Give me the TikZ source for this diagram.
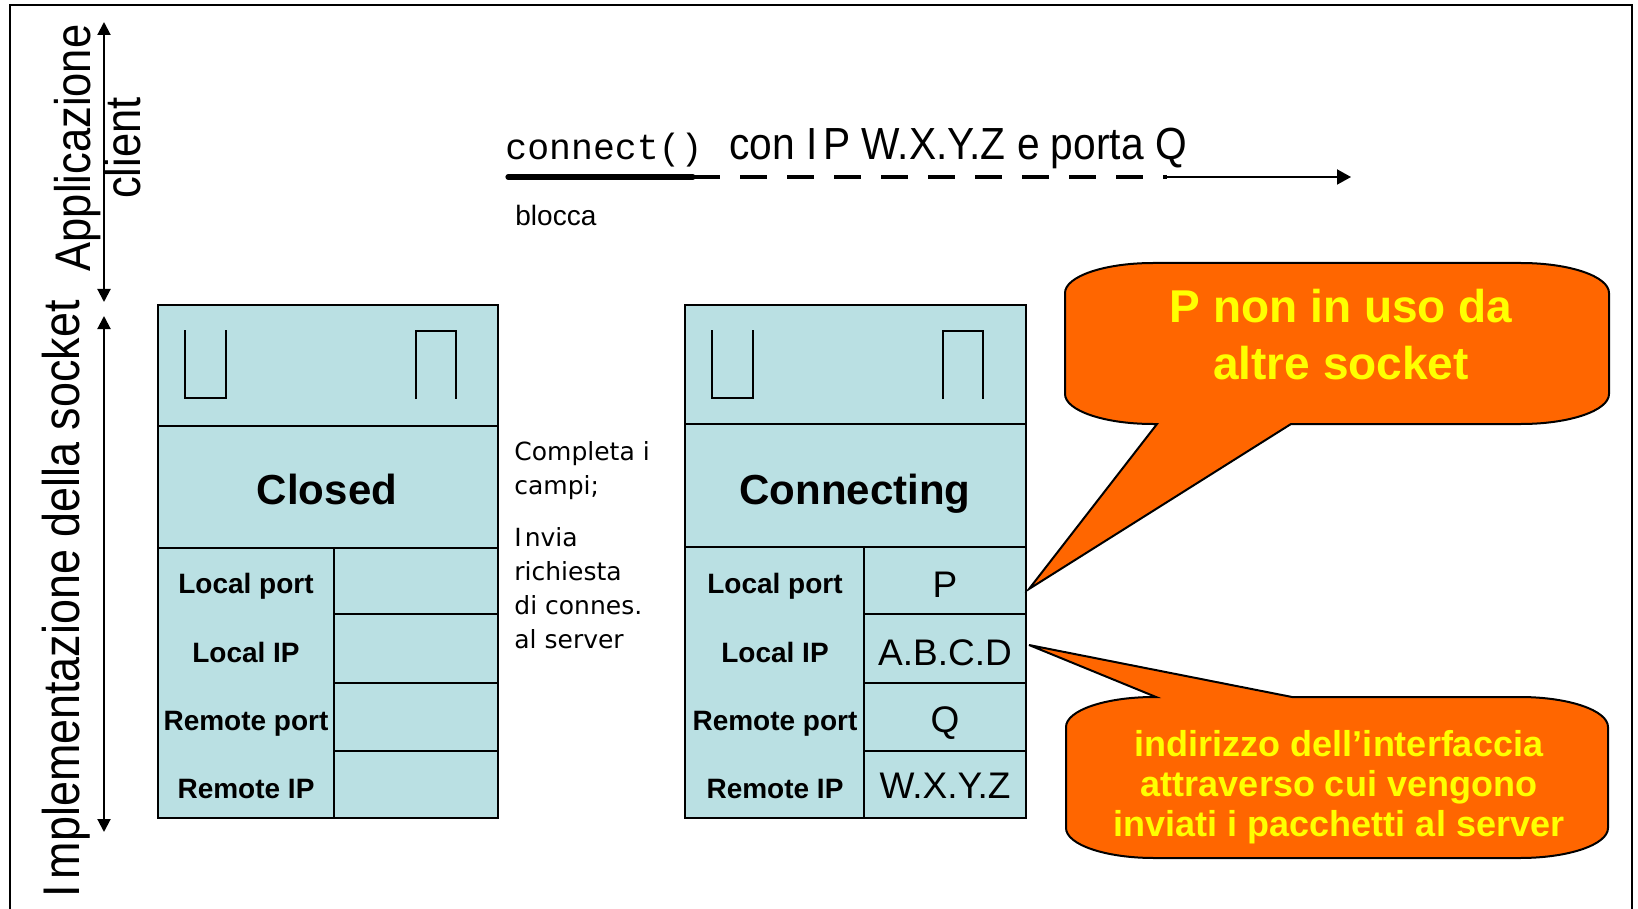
\documentclass[tikz,border=0pt]{standalone}
\usepackage{fontspec}
\setmainfont{Liberation Sans}
\newfontfamily\narrowf{Liberation Sans}[FakeStretch=0.87]
\newfontfamily\narrowg{Liberation Sans}[FakeStretch=0.905]
\newfontfamily\monof{Liberation Mono}
\newfontfamily\dejaf{DejaVu Sans}
\usetikzlibrary{arrows.meta}
\definecolor{sockblue}{RGB}{186,224,227}
\definecolor{callorange}{RGB}{255,102,0}
\definecolor{callyellow}{RGB}{255,255,0}
\tikzset{
  frameline/.style={line width=1pt},
  boxline/.style={line width=1pt, draw=black},
  fieldlabel/.style={font=\bfseries\fontsize{14}{16}\selectfont, inner sep=0pt, anchor=base},
  fieldvalue/.style={font=\fontsize{18.5}{20}\selectfont, inner sep=0pt, anchor=base},
  statelabel/.style={font=\bfseries\fontsize{21}{24}\selectfont, inner sep=0pt, anchor=base},
  sidelabel/.style={font=\narrowf\fontsize{25}{25}\selectfont, inner sep=0pt, rotate=90, align=center},
  calloutshape/.style={fill=callorange, draw=black, line width=1pt, line join=miter},
  callouttext/.style={text=callyellow, inner sep=0pt, align=center},
  dblarrow/.style={line width=1pt, {Triangle[length=6.5pt,width=6.5pt]}-{Triangle[length=6.5pt,width=6.5pt]}},
}
\begin{document}
\begin{tikzpicture}[x=0.5pt,y=-0.5pt]
\useasboundingbox (0,0) rectangle (1638,909);
% frame
\draw[frameline] (10,909) -- (10,5) -- (1632,5) -- (1632,909);

% side arrows
\coordinate (appTop) at (104,22);
\coordinate (appBot) at (104,302);
\coordinate (sockTop) at (104,316);
\coordinate (sockBot) at (104,832);
\draw[dblarrow] (appTop) -- (appBot);
\draw[dblarrow] (sockTop) -- (sockBot);

% side labels
\node[sidelabel] (applab) at (97.5,148) {Applicazione\\client};
\node[sidelabel, font=\narrowf\fontsize{25.8}{26}\selectfont, anchor=base] (socklab) at (79,599) {I\hspace{0.12em}mplementazione della socket};

% connect line
\node[font=\monof\fontsize{18.25}{20}\selectfont, inner sep=0pt, anchor=base west] (conn) at (505,160) {connect()};
\node[font=\narrowg\fontsize{22.5}{24}\selectfont, inner sep=0pt, anchor=base west] (conip) at (729,160) {con I\hspace{0.12em}P W.X.Y.Z e porta Q};
\node[font=\fontsize{14}{16}\selectfont, inner sep=0pt, anchor=base west] (blocca) at (515,226) {blocca};
\coordinate (lnA) at (508,177);
\coordinate (lnB) at (693,177);
\coordinate (lnC) at (1167,177);
\coordinate (lnD) at (1351,177);
\draw[line width=2.6pt, line cap=round] (lnA) -- (lnB);
\draw[line width=1.7pt, dash pattern=on 13.5pt off 10pt] (lnB) -- (lnC);
\draw[line width=1pt, -{Triangle[length=7pt,width=7.5pt]}] (lnC) -- (lnD);

% ---- Closed socket box
\fill[sockblue] (158,305) rectangle (498,818);
\draw[boxline] (158,305) rectangle (498,818);
\draw[boxline] (158,426) -- (498,426);
\draw[boxline] (158,548) -- (498,548);
\draw[boxline] (334,548) -- (334,818);
\draw[boxline] (334,614) -- (498,614);
\draw[boxline] (334,683) -- (498,683);
\draw[boxline] (334,751) -- (498,751);
\draw[line width=1pt] (185,330) -- (185,398) -- (226,398) -- (226,330);
\draw[line width=1pt] (416,399) -- (416,331) -- (456,331) -- (456,399);
\node[statelabel] (closed) at (327,504) {Closed};
\node[fieldlabel] (c1) at (246,593) {Local port};
\node[fieldlabel] (c2) at (246,662) {Local IP};
\node[fieldlabel] (c3) at (246,730) {Remote port};
\node[fieldlabel] (c4) at (246,798) {Remote IP};

% middle text
\node[font=\dejaf\fontsize{12.5}{17}\selectfont, inner sep=0pt, anchor=north west, align=left] (midtext) at (514,441)
  {Completa i\\campi;\\[9pt]I\hspace{0.12em}nvia\\richiesta\\di connes.\\al server};

% ---- Connecting socket box
\fill[sockblue] (685,305) rectangle (1026,818);
\draw[boxline] (685,305) rectangle (1026,818);
\draw[boxline] (685,424) -- (1026,424);
\draw[boxline] (685,547) -- (1026,547);
\draw[boxline] (864,547) -- (864,818);
\draw[boxline] (864,614) -- (1026,614);
\draw[boxline] (864,683) -- (1026,683);
\draw[boxline] (864,751) -- (1026,751);
\draw[line width=1pt] (712,330) -- (712,398) -- (753,398) -- (753,330);
\draw[line width=1pt] (943,399) -- (943,331) -- (983,331) -- (983,399);
\node[statelabel] (connecting) at (855,504) {Connecting};
\node[fieldlabel] (k1) at (775,593) {Local port};
\node[fieldlabel] (k2) at (775,662) {Local IP};
\node[fieldlabel] (k3) at (775,730) {Remote port};
\node[fieldlabel] (k4) at (775,798) {Remote IP};
\node[fieldvalue] (v1) at (945,597) {P};
\node[fieldvalue] (v2) at (945,665) {A.B.C.D};
\node[fieldvalue] (v3) at (945,732) {Q};
\node[fieldvalue] (v4) at (945,798) {W.X.Y.Z};

% ---- callout 1
\draw[calloutshape] (1153,263) -- (1521,263)
  .. controls (1569.6,263) and (1609,276.4) .. (1609,293) -- (1609,394)
  .. controls (1609,410.6) and (1569.6,424) .. (1521,424) -- (1291,424)
  -- (1029,589) -- (1157,424) -- (1153,424)
  .. controls (1104.4,424) and (1065,410.6) .. (1065,394) -- (1065,293)
  .. controls (1065,276.4) and (1104.4,263) .. (1153,263) -- cycle;
\node[callouttext, font=\bfseries\fontsize{23}{28.5}\selectfont] (call1) at (1341,334.5) {P non in uso da\\altre socket};

% ---- callout 2
\draw[calloutshape] (1154,697) -- (1156,697) -- (1029,645) -- (1292,697) -- (1520,697)
  .. controls (1568.6,697) and (1608,710.4) .. (1608,727) -- (1608,828)
  .. controls (1608,844.6) and (1568.6,858) .. (1520,858) -- (1154,858)
  .. controls (1105.4,858) and (1066,844.6) .. (1066,828) -- (1066,727)
  .. controls (1066,710.4) and (1105.4,697) .. (1154,697) -- cycle;
\node[callouttext, font=\bfseries\fontsize{18}{20}\selectfont] (call2) at (1339,787) {indirizzo dell’interfaccia\\attraverso cui vengono\\inviati i pacchetti al server};
\end{tikzpicture}
\end{document}
